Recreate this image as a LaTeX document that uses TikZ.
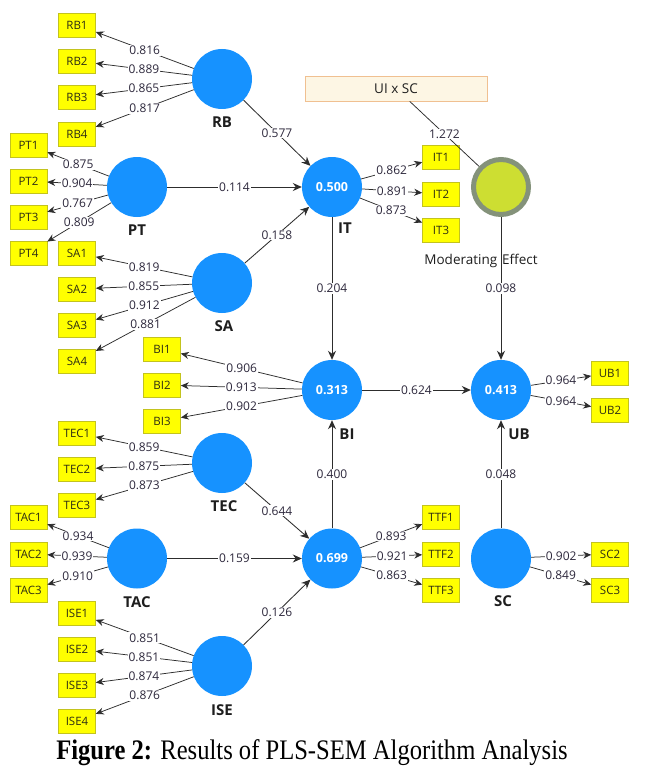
\documentclass[tikz,border=0pt]{standalone}
\usepackage{fontspec}
\setmainfont{Liberation Serif}
\newfontfamily\uifont{Open Sans}
\usetikzlibrary{arrows.meta}
\definecolor{lvblue}{RGB}{22,146,255}
\definecolor{indyellow}{RGB}{255,255,0}
\definecolor{indborder}{RGB}{195,195,30}
\definecolor{indtext}{RGB}{45,45,20}
\definecolor{numtext}{RGB}{45,40,60}
\definecolor{linegray}{RGB}{45,45,45}
\definecolor{modgreen}{RGB}{205,222,50}
\definecolor{modring}{RGB}{132,146,122}
\definecolor{boxfill}{RGB}{253,246,228}
\definecolor{boxborder}{RGB}{240,192,145}
\definecolor{lbltext}{RGB}{30,30,30}
\tikzset{
  lv/.style={circle, fill=lvblue, minimum size=60pt, inner sep=0pt, text=white,
    font=\uifont\bfseries\fontsize{12.5}{14}\selectfont},
  modlv/.style={circle, fill=modgreen, draw=modring, line width=5pt, minimum size=55pt, inner sep=0pt},
  ind/.style={rectangle, fill=indyellow, draw=indborder, line width=0.6pt,
    minimum width=37pt, minimum height=24pt, inner sep=0pt, text=indtext,
    font=\uifont\fontsize{11.5}{13}\selectfont},
  lbl/.style={fill=white, inner sep=1pt, text=numtext, font=\uifont\fontsize{12}{14}\selectfont},
  lvname/.style={text=lbltext, font=\uifont\bfseries\fontsize{15}{17}\selectfont, inner sep=0pt},
  load/.style={draw=linegray, line width=0.75pt, -{Stealth[length=8pt,width=7pt]}},
  spath/.style={draw=linegray, line width=0.85pt, -{Stealth[length=9pt,width=8pt]}},
  plainline/.style={draw=linegray, line width=0.75pt}
}
\begin{document}
\begin{tikzpicture}[x=1pt,y=-1pt]
\useasboundingbox[fill=white] (0,0) rectangle (645,781);

% constructs
\node[lv] (RB) at (222,79) {};
\node[lv] (PT) at (137,187) {};
\node[lv] (SA) at (222,283) {};
\node[lv] (IT) at (332,187) {0.500};
\node[lv] (BI) at (332,390) {0.313};
\node[lv] (UB) at (501,390) {0.413};
\node[lv] (TEC) at (222,463) {};
\node[lv] (TAC) at (137,558.5) {};
\node[lv] (TTF) at (332,558.5) {0.699};
\node[lv] (SC) at (501,558.5) {};
\node[lv] (ISE) at (222,666) {};
\node[modlv] (MOD) at (501,187) {};

\node[rectangle, fill=boxfill, draw=boxborder, line width=0.8pt, minimum width=182pt, minimum height=25pt,
  inner sep=0pt, text=lbltext, font=\uifont\fontsize{13.5}{15}\selectfont] (UISC) at (396,88.5) {UI x SC};

% construct names
\node[lvname] (nRB) at (222,122) {RB};
\node[lvname] (nPT) at (137,230) {PT};
\node[lvname] (nSA) at (224,326) {SA};
\node[lvname] (nIT) at (345,228) {IT};
\node[lvname] (nBI) at (347,434) {BI};
\node[lvname] (nUB) at (519,434) {UB};
\node[lvname] (nTEC) at (224,506) {TEC};
\node[lvname] (nTAC) at (137,602) {TAC};
\node[lvname] (nSC) at (503,601) {SC};
\node[lvname] (nISE) at (222,710) {ISE};

% indicators
\node[ind] (RB1) at (77,25) {RB1};
\node[ind] (RB2) at (77,61) {RB2};
\node[ind] (RB3) at (77,97) {RB3};
\node[ind] (RB4) at (77,134) {RB4};
\node[ind] (PT1) at (28.5,145) {PT1};
\node[ind] (PT2) at (28.5,181) {PT2};
\node[ind] (PT3) at (28.5,217) {PT3};
\node[ind] (PT4) at (28.5,253) {PT4};
\node[ind] (SA1) at (77,253) {SA1};
\node[ind] (SA2) at (77,289) {SA2};
\node[ind] (SA3) at (77,325) {SA3};
\node[ind] (SA4) at (77,361) {SA4};
\node[ind] (BI1) at (162,349) {BI1};
\node[ind] (BI2) at (162,385) {BI2};
\node[ind] (BI3) at (162,421) {BI3};
\node[ind] (TEC1) at (77,433) {TEC1};
\node[ind] (TEC2) at (77,469) {TEC2};
\node[ind] (TEC3) at (77,505) {TEC3};
\node[ind] (TAC1) at (28.5,517) {TAC1};
\node[ind] (TAC2) at (28.5,554) {TAC2};
\node[ind] (TAC3) at (28.5,590) {TAC3};
\node[ind] (ISE1) at (77,613) {ISE1};
\node[ind] (ISE2) at (77,649) {ISE2};
\node[ind] (ISE3) at (77,685) {ISE3};
\node[ind] (ISE4) at (77,721) {ISE4};
\node[ind] (IT1) at (441,157) {IT1};
\node[ind] (IT2) at (441,194) {IT2};
\node[ind] (IT3) at (441,230) {IT3};
\node[ind] (TTF1) at (441,517) {TTF1};
\node[ind] (TTF2) at (441,554) {TTF2};
\node[ind] (TTF3) at (441,590) {TTF3};
\node[ind] (UB1) at (610,373) {UB1};
\node[ind] (UB2) at (610,410) {UB2};
\node[ind] (SC2) at (610,554) {SC2};
\node[ind] (SC3) at (610,590) {SC3};

% loadings
\draw[load] (RB) -- node[lbl]{0.816} (RB1);
\draw[load] (RB) -- node[lbl]{0.889} (RB2);
\draw[load] (RB) -- node[lbl]{0.865} (RB3);
\draw[load] (RB) -- node[lbl]{0.817} (RB4);
\draw[load] (PT) -- node[lbl]{0.875} (PT1);
\draw[load] (PT) -- node[lbl]{0.904} (PT2);
\draw[load] (PT) -- node[lbl]{0.767} (PT3);
\draw[load] (PT) -- node[lbl]{0.809} (PT4);
\draw[load] (SA) -- node[lbl]{0.819} (SA1);
\draw[load] (SA) -- node[lbl]{0.855} (SA2);
\draw[load] (SA) -- node[lbl]{0.912} (SA3);
\draw[load] (SA) -- node[lbl]{0.881} (SA4);
\draw[load] (BI) -- node[lbl]{0.906} (BI1);
\draw[load] (BI) -- node[lbl]{0.913} (BI2);
\draw[load] (BI) -- node[lbl]{0.902} (BI3);
\draw[load] (TEC) -- node[lbl]{0.859} (TEC1);
\draw[load] (TEC) -- node[lbl]{0.875} (TEC2);
\draw[load] (TEC) -- node[lbl]{0.873} (TEC3);
\draw[load] (TAC) -- node[lbl]{0.934} (TAC1);
\draw[load] (TAC) -- node[lbl]{0.939} (TAC2);
\draw[load] (TAC) -- node[lbl]{0.910} (TAC3);
\draw[load] (ISE) -- node[lbl]{0.851} (ISE1);
\draw[load] (ISE) -- node[lbl]{0.851} (ISE2);
\draw[load] (ISE) -- node[lbl]{0.874} (ISE3);
\draw[load] (ISE) -- node[lbl]{0.876} (ISE4);
\draw[load] (IT) -- node[lbl]{0.862} (IT1);
\draw[load] (IT) -- node[lbl]{0.891} (IT2);
\draw[load] (IT) -- node[lbl]{0.873} (IT3);
\draw[load] (TTF) -- node[lbl]{0.893} (TTF1);
\draw[load] (TTF) -- node[lbl]{0.921} (TTF2);
\draw[load] (TTF) -- node[lbl]{0.863} (TTF3);
\draw[load] (UB) -- node[lbl]{0.964} (UB1);
\draw[load] (UB) -- node[lbl]{0.964} (UB2);
\draw[load] (SC) -- node[lbl]{0.902} (SC2);
\draw[load] (SC) -- node[lbl]{0.849} (SC3);

% structural paths
\draw[spath] (RB) -- node[lbl]{0.577} (IT);
\draw[spath] (PT) -- node[lbl]{0.114} (IT);
\draw[spath] (SA) -- node[lbl]{0.158} (IT);
\draw[spath] (IT) -- node[lbl]{0.204} (BI);
\draw[spath] (BI) -- node[lbl]{0.624} (UB);
\draw[spath] (MOD) -- node[lbl]{0.098} (UB);
\draw[spath] (TEC) -- node[lbl]{0.644} (TTF);
\draw[spath] (TAC) -- node[lbl]{0.159} (TTF);
\draw[spath] (ISE) -- node[lbl]{0.126} (TTF);
\draw[spath] (TTF) -- node[lbl]{0.400} (BI);
\draw[spath] (SC) -- node[lbl]{0.048} (UB);
\draw[plainline] (UISC) -- node[lbl]{1.272} (MOD);

\node[text=lbltext, font=\uifont\fontsize{13.5}{15}\selectfont, inner sep=0pt] (nMOD) at (481,261) {Moderating\hspace{5pt}Effect};

% caption
\node[inner sep=0pt, text=black] (CAP) at (312,753)
  {\scalebox{1}[1.15]{\fontsize{24.6}{28}\selectfont\textbf{Figure 2:} Results of PLS-SEM Algorithm Analysis}};
\end{tikzpicture}
\end{document}
